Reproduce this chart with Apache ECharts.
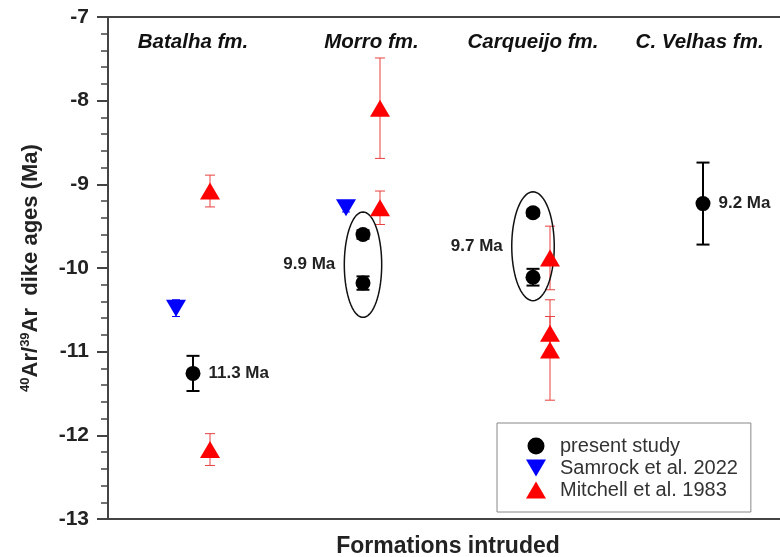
<!DOCTYPE html>
<html><head><meta charset="utf-8">
<script src="https://cdn.jsdelivr.net/npm/echarts@6/dist/echarts.min.js"></script>
<style>html,body{margin:0;padding:0;background:#fff}#c{width:780px;height:557px}</style>
</head><body><div id="c"></div>
<script>
// ---- data ----
const formations = ['Batalha fm.', 'Morro fm.', 'Carqueijo fm.', 'C. Velhas fm.'];
const formationX = [1, 2.05, 3, 3.98];
const yTicks = [-13, -12, -11, -10, -9, -8, -7];

const presentX = [1, 2, 2, 3, 3, 4];
const presentAge = [-11.26, -9.6, -10.18, -9.34, -10.11, -9.23];
const presentErr = [0.21, 0.05, 0.08, 0.04, 0.1, 0.49];
const presentLabel = ['11.3 Ma', '', '', '', '', '9.2 Ma'];

const samrockX = [0.9, 1.9];
const samrockAge = [-10.48, -9.28];
const samrockErr = [0.1, 0.05];

const mitchellX = [1.1, 1.1, 2.1, 2.1, 3.1, 3.1, 3.1];
const mitchellAge = [-9.08, -12.17, -8.09, -9.28, -9.88, -10.78, -10.98];
const mitchellErr = [0.19, 0.19, 0.6, 0.2, 0.38, 0.2, 0.6];

// grouping ellipses: centre x, centre age, half-width (x units), half-height (Ma), label
const groupX = [2, 3];
const groupAge = [-9.96, -9.74];
const groupHalfW = [0.11, 0.125];
const groupHalfH = [0.63, 0.65];
const groupLabel = ['9.9 Ma', '9.7 Ma'];

// ---- build ----
const FONT = 'Liberation Sans, Arial, sans-serif';
const zip3 = (a, b, c) => a.map((v, i) => [v, b[i], c[i]]);
function errorBarSeries(name, xs, ys, es, color, lw, cap) {
  return {
    type: 'custom', name: name, z: 1,
    data: zip3(xs, ys, es),
    renderItem: function (params, api) {
      const x = api.value(0), y = api.value(1), e = api.value(2);
      const top = api.coord([x, y + e]);
      const bot = api.coord([x, y - e]);
      const st = { stroke: color, lineWidth: lw };
      return {
        type: 'group', children: [
          { type: 'line', shape: { x1: top[0], y1: top[1], x2: bot[0], y2: bot[1] }, style: st },
          { type: 'line', shape: { x1: top[0] - cap, y1: top[1], x2: top[0] + cap, y2: top[1] }, style: st },
          { type: 'line', shape: { x1: bot[0] - cap, y1: bot[1], x2: bot[0] + cap, y2: bot[1] }, style: st }
        ]
      };
    }
  };
}

const downTri = 'path://M0,0 L20,0 L10,17 Z';
const upTri = 'path://M10,0 L20,17 L0,17 Z';

const option = {
  animation: false,
  backgroundColor: '#fff',
  textStyle: { fontFamily: FONT },
  grid: { left: 108, right: -8, top: 17, bottom: 38, show: false, containLabel: false, outerBoundsMode: 'none' },
  legend: {
    data: ['present study', 'Samrock et al. 2022', 'Mitchell et al. 1983'],
    orient: 'vertical', left: 497, top: 423,
    itemWidth: 38, itemHeight: 17, itemGap: 2,
    padding: [13, 13, 12, 29],
    borderColor: '#888', borderWidth: 1, borderRadius: 0,
    backgroundColor: '#fff',
    textStyle: { fontSize: 20, lineHeight: 20, color: '#333', fontFamily: FONT }
  },
  xAxis: [{
    type: 'value', min: 0.5, max: 4.5, position: 'bottom',
    name: 'Formations intruded', nameLocation: 'middle', nameGap: 16,
    nameTextStyle: { fontSize: 23, fontWeight: 'bold', color: '#222' },
    axisLine: { show: true, onZero: false, lineStyle: { color: '#444', width: 2 } },
    axisTick: { show: false }, axisLabel: { show: false }, splitLine: { show: false }
  }, {
    type: 'value', min: 0.5, max: 4.5, position: 'top',
    axisLine: { show: true, onZero: false, lineStyle: { color: '#444', width: 2 } },
    axisTick: { show: false }, axisLabel: { show: false }, splitLine: { show: false }
  }],
  yAxis: {
    type: 'value', min: yTicks[0], max: yTicks[yTicks.length - 1], interval: 1,
    name: '{sup|40}Ar/{sup|39}Ar  dike ages (Ma)',
    nameLocation: 'middle', nameRotate: 90, nameGap: 66,
    nameTextStyle: {
      fontSize: 22, fontWeight: 'bold', color: '#222',
      rich: { sup: { fontSize: 13, fontWeight: 'bold', color: '#222', verticalAlign: 'top', padding: [0, 0, 10, 0] } }
    },
    axisLine: { show: true, onZero: false, lineStyle: { color: '#444', width: 2 } },
    axisTick: { show: true, length: 11, lineStyle: { color: '#444', width: 2 } },
    minorTick: { show: true, splitNumber: 5, length: 7, lineStyle: { color: '#444', width: 1.5 } },
    axisLabel: { fontSize: 21, fontWeight: 'bold', color: '#222', margin: 19 },
    splitLine: { show: false }
  },
  series: [
    errorBarSeries('errPresent', presentX, presentAge, presentErr, '#000', 2, 6.5),
    errorBarSeries('errSamrock', samrockX, samrockAge, samrockErr, '#0000ff', 1, 4),
    errorBarSeries('errMitchell', mitchellX, mitchellAge, mitchellErr, '#e8403f', 1, 5),
    {
      type: 'custom', name: 'groups', z: 1,
      data: groupX.map((v, i) => [v, groupAge[i], groupHalfW[i], groupHalfH[i]]),
      renderItem: function (params, api) {
        const cx = api.value(0), cy = api.value(1), a = api.value(2), b = api.value(3);
        const pts = [];
        for (let k = 0; k <= 72; k++) {
          const t = k / 72 * Math.PI * 2;
          pts.push(api.coord([cx + a * Math.cos(t), cy + b * Math.sin(t)]));
        }
        const left = api.coord([cx - a, cy]);
        return {
          type: 'group', children: [
            { type: 'polyline', shape: { points: pts }, style: { stroke: '#111', lineWidth: 1.5, fill: null } },
            { type: 'text', x: left[0] - 9, y: left[1], style: {
              text: groupLabel[params.dataIndex], align: 'right', verticalAlign: 'middle',
              font: 'bold 17px ' + FONT, fill: '#222' } }
          ]
        };
      }
    },
    {
      type: 'scatter', name: 'Mitchell et al. 1983', z: 3,
      symbol: upTri, symbolSize: [20, 17],
      itemStyle: { color: '#ff0000', opacity: 1 },
      data: mitchellX.map((v, i) => [v, mitchellAge[i]])
    },
    {
      type: 'scatter', name: 'Samrock et al. 2022', z: 3,
      symbol: downTri, symbolSize: [20, 17],
      itemStyle: { color: '#0000ff', opacity: 1 },
      data: samrockX.map((v, i) => [v, samrockAge[i]])
    },
    {
      type: 'scatter', name: 'present study', z: 4,
      symbol: 'circle', symbolSize: 15,
      itemStyle: { color: '#000', opacity: 1 },
      data: presentX.map((v, i) => ({ value: [v, presentAge[i]], label: { show: !!presentLabel[i], formatter: presentLabel[i] } })),
      label: { position: 'right', distance: 8, fontSize: 17, fontWeight: 'bold', color: '#222' }
    },
    {
      type: 'scatter', name: 'formations', symbolSize: 0, silent: true,
      itemStyle: { opacity: 1 },
      data: formationX.map((v, i) => ({ value: [v, -7.3], label: { formatter: formations[i] } })),
      label: { show: true, position: 'inside', fontSize: 20.5, fontWeight: 'bold', fontStyle: 'italic', color: '#111' }
    }
  ]
};
const chart = echarts.init(document.getElementById('c'), null, { renderer: 'canvas' });
chart.setOption(option);
</script></body></html>
